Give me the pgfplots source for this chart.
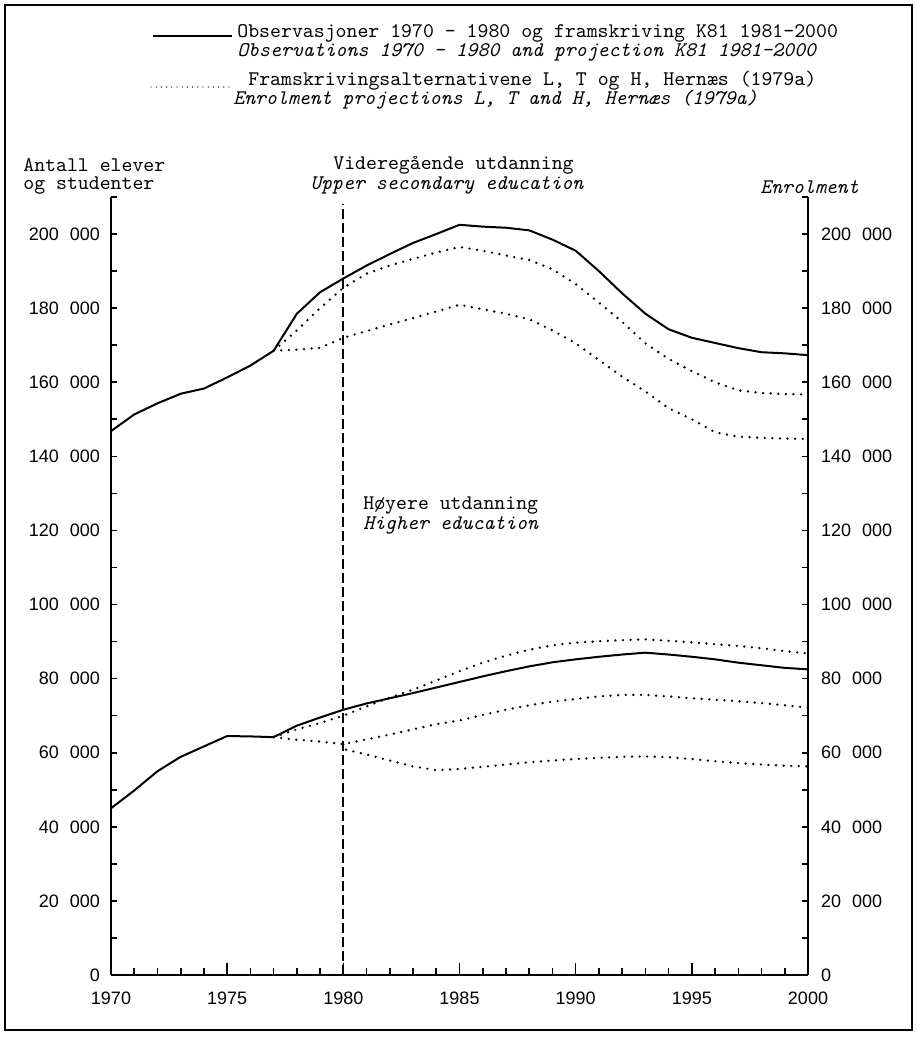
\documentclass[border=0pt]{standalone}
\usepackage{fontspec}
\newfontfamily\tickfont{Liberation Sans}
\usepackage{pgfplots}
\pgfplotsset{compat=1.18}

\newcommand{\txt}{\ttfamily\fontsize{10.4}{12}\selectfont}
\newcommand{\tk}{\tickfont\fontsize{9}{10}\selectfont}
\newcommand{\kk}[1]{#1\hspace{5.5pt}000}

\pgfplotsset{
  base/.style={
    scale only axis, width=348.5pt, height=389pt,
    xmin=1970, xmax=2000, ymin=0, ymax=210000,
    scaled y ticks=false, scaled x ticks=false,
    tick align=inside,
    every tick/.style={black, line width=0.8pt},
    axis line style={line width=1pt},
  },
  obs/.style={black, line width=1pt, line join=round},
  proj/.style={black, line width=1.3pt, line cap=round, dash pattern=on 0pt off 3.8pt},
}

\begin{document}
\begin{tikzpicture}
% whole page, as in the scan
\path[use as bounding box] (-55.5pt,-32pt) rectangle (402.5pt,487.5pt);
% data + bottom axis
\begin{axis}[base,
  axis x line*=bottom, axis y line=none,
  xtick={1970,1975,...,2000},
  xticklabels={1970,1975,1980,1985,1990,1995,2000},
  minor x tick num=4,
  major tick length=6pt, minor tick length=3.5pt,
  xticklabel style={font=\tk, yshift=-5pt},
]
% videregaende utdanning
\addplot[obs] coordinates {
 (1970,146800) (1971,151300) (1972,154300) (1973,156900) (1974,158300)
 (1975,161300) (1976,164500) (1977,168500) (1978,178500) (1979,184300)
 (1980,188000) (1981,191500) (1982,194600) (1983,197600) (1984,200000)
 (1985,202500) (1986,202000) (1987,201700) (1988,201000) (1989,198500)
 (1990,195500) (1991,190000) (1992,184000) (1993,178500) (1994,174300)
 (1995,172000) (1996,170600) (1997,169200) (1998,168100) (1999,167800)
 (2000,167300)};
\addplot[proj] coordinates {
 (1977,168500) (1978,174000) (1979,180000) (1980,185500) (1981,189300)
 (1982,191500) (1983,193300) (1984,195000) (1985,196500) (1986,195500)
 (1987,194200) (1988,193000) (1989,190500) (1990,186500) (1991,181500)
 (1992,176300) (1993,170500) (1994,166300) (1995,163000) (1996,160000)
 (1997,157800) (1998,157100) (1999,156800) (2000,156700)};
\addplot[proj] coordinates {
 (1977,168500) (1978,168800) (1979,169300) (1980,172000) (1981,173800)
 (1982,175600) (1983,177300) (1984,179100) (1985,180900) (1986,179700)
 (1987,178500) (1988,177000) (1989,174000) (1990,170500) (1991,166000)
 (1992,161500) (1993,157500) (1994,153000) (1995,150000) (1996,146500)
 (1997,145300) (1998,145000) (1999,144800) (2000,144700)};
% hoyere utdanning
\addplot[obs] coordinates {
 (1970,45000) (1971,49800) (1972,55000) (1973,58900) (1974,61700)
 (1975,64500) (1976,64400) (1977,64200) (1978,67300) (1979,69500)
 (1980,71600) (1981,73300) (1982,74700) (1983,76100) (1984,77600)
 (1985,79100) (1986,80600) (1987,82000) (1988,83300) (1989,84400)
 (1990,85200) (1991,85900) (1992,86500) (1993,87000) (1994,86500)
 (1995,85900) (1996,85200) (1997,84300) (1998,83600) (1999,82900)
 (2000,82500)};
\addplot[proj] coordinates {
 (1977,64200) (1978,66300) (1979,68000) (1980,70000) (1981,72500)
 (1982,74900) (1983,77000) (1984,79500) (1985,82000) (1986,84300)
 (1987,86200) (1988,87800) (1989,89000) (1990,89700) (1991,90100)
 (1992,90400) (1993,90600) (1994,90200) (1995,89800) (1996,89300)
 (1997,88800) (1998,88200) (1999,87400) (2000,86800)};
\addplot[proj] coordinates {
 (1977,64200) (1978,63500) (1979,63000) (1980,62300) (1981,63600)
 (1982,64900) (1983,66300) (1984,67700) (1985,68700) (1986,70200)
 (1987,71600) (1988,72800) (1989,73800) (1990,74500) (1991,75200)
 (1992,75600) (1993,75600) (1994,75200) (1995,74700) (1996,74300)
 (1997,73900) (1998,73400) (1999,72800) (2000,72200)};
\addplot[proj] coordinates {
 (1980,62300) (1980,61000) (1981,59500) (1982,57900) (1983,56300)
 (1984,55300) (1985,55600) (1986,56200) (1987,56800) (1988,57400)
 (1989,57900) (1990,58300) (1991,58600) (1992,58900) (1993,59000)
 (1994,58800) (1995,58300) (1996,57700) (1997,57200) (1998,56800)
 (1999,56500) (2000,56300)};
% 1980 skille
\addplot[black, line width=1pt, dash pattern=on 5pt off 2pt] coordinates {(1980,0) (1980,208000)};
\end{axis}
% left y axis
\begin{axis}[base,
  axis x line=none, axis y line*=left,
  ytick={0,20000,...,200000},
  yticklabels={0,\kk{20},\kk{40},\kk{60},\kk{80},\kk{100},\kk{120},\kk{140},\kk{160},\kk{180},\kk{200}},
  minor ytick={10000,30000,...,210000},
  major tick length=3pt, minor tick length=3pt,
  yticklabel style={font=\tk, xshift=-2pt},
]
\end{axis}
% right y axis
\begin{axis}[base,
  axis x line=none, axis y line*=right,
  ytick={0,20000,...,200000},
  yticklabels={0,\kk{20},\kk{40},\kk{60},\kk{80},\kk{100},\kk{120},\kk{140},\kk{160},\kk{180},\kk{200}},
  minor ytick={10000,30000,...,210000},
  major tick length=3pt, minor tick length=3pt,
  yticklabel style={font=\tk, xshift=3pt},
]
\end{axis}
% legend
\draw[line width=1pt] (21pt,469.5pt) -- (60.5pt,469.5pt);
\draw[line width=0.7pt, line cap=round, dash pattern=on 0pt off 2.6pt] (20pt,444pt) -- (60.5pt,444pt);
\node[anchor=west, inner sep=0pt, font=\txt] at (63pt,471pt) {Observasjoner 1970 - 1980 og framskriving K81 1981-2000};
\node[anchor=west, inner sep=0pt, font=\txt\itshape] at (63pt,461.5pt) {Observations 1970 – 1980 and projection K81 1981-2000};
\node[anchor=west, inner sep=0pt, font=\txt] at (68.5pt,447pt) {Framskrivingsalternativene L, T og H, Hernæs (1979a)};
\node[anchor=west, inner sep=0pt, font=\txt\itshape] at (61pt,437.5pt) {Enrolment projections L, T and H, Hernæs (1979a)};
% axis titles
\node[anchor=west, inner sep=0pt, font=\txt] at (-44pt,405pt) {Antall elever};
\node[anchor=west, inner sep=0pt, font=\txt] at (-44pt,394.5pt) {og studenter};
\node[anchor=west, inner sep=0pt, font=\txt\itshape] at (324.5pt,394pt) {Enrolment};
\node[anchor=west, inner sep=0pt, font=\txt] at (111pt,405pt) {Videregående utdanning};
\node[anchor=west, inner sep=0pt, font=\txt\itshape] at (99.5pt,395pt) {Upper secondary education};
\node[anchor=west, inner sep=0pt, font=\txt] at (126pt,234.5pt) {Høyere utdanning};
\node[anchor=west, inner sep=0pt, font=\txt\itshape] at (126pt,225pt) {Higher education};
% frame
\draw[line width=1.2pt] (-53pt,-27.5pt) rectangle (400.5pt,485pt);
\end{tikzpicture}
\end{document}
